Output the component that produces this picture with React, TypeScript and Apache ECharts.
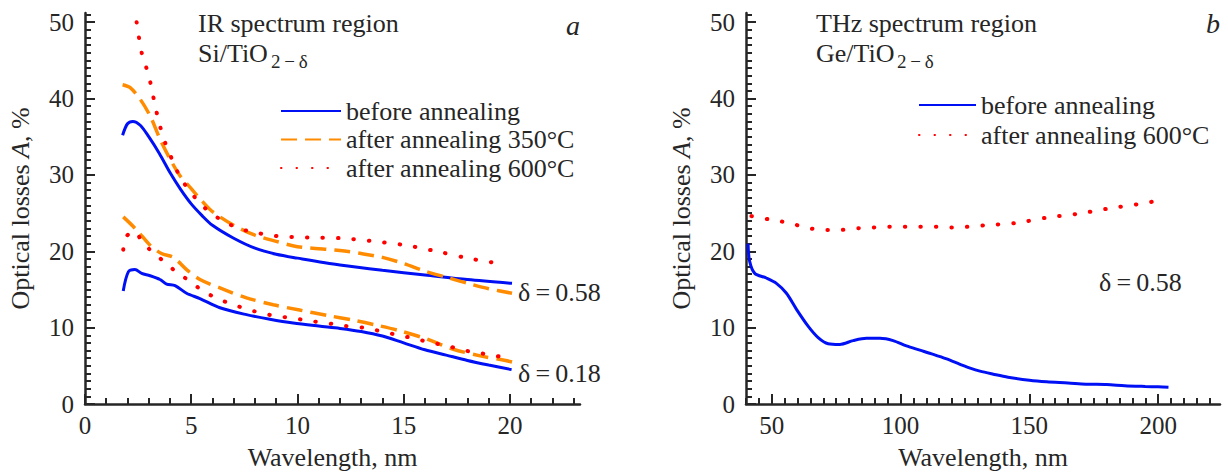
import React, { useEffect, useRef } from "react";
import * as echarts from "echarts";

// ---------- IR region (Si/TiO2-δ) ----------
const irBefore058Wl = [1.77, 2.0, 2.25, 2.6, 3.0, 3.5, 4.0, 4.5, 5, 5.5, 6, 7, 8, 9, 10, 12, 14, 16, 18, 20.1];
const irBefore058 = [35.2, 36.7, 37.0, 36.5, 35.0, 32.8, 30.3, 28.1, 26.2, 24.7, 23.4, 21.7, 20.4, 19.6, 19.1, 18.2, 17.5, 16.9, 16.3, 15.8];

const irAfter350_058Wl = [1.77, 2.14, 2.6, 3.07, 3.53, 4.0, 4.47, 5, 5.5, 6, 7, 8, 9, 10, 12, 13, 14, 15, 16, 17, 18, 19, 20.1];
const irAfter350_058 = [41.8, 41.4, 39.9, 37.7, 34.7, 32.1, 29.9, 28.2, 26.6, 25.2, 23.4, 22.1, 21.3, 20.6, 20.1, 19.7, 19.2, 18.4, 17.4, 16.6, 15.8, 15.1, 14.5];

const irAfter600_058Wl = [2.43, 2.66, 2.87, 3.06, 3.21, 3.37, 3.53, 3.8, 4.15, 4.5, 5.1, 5.67, 6.3, 6.9, 7.6, 9.0, 10.5, 12.1, 13.6, 15.06, 16.55, 18.0, 19.5];
const irAfter600_058 = [50.0, 46.1, 44.2, 42.3, 40.3, 38.2, 36.4, 34.0, 31.7, 29.6, 27.3, 25.6, 24.3, 23.4, 22.7, 22.0, 21.8, 21.7, 21.3, 20.8, 20.0, 19.1, 18.4];

const irBefore018Wl = [1.8, 2.04, 2.35, 2.67, 3.06, 3.53, 3.84, 4.24, 4.78, 5.41, 6.35, 7.6, 8.7, 9.8, 11, 12, 13, 14, 15, 16, 17, 18, 19, 20.08];
const irBefore018 = [14.8, 17.3, 17.6, 17.1, 16.8, 16.3, 15.7, 15.5, 14.5, 13.8, 12.6, 11.7, 11.1, 10.6, 10.2, 9.9, 9.5, 8.9, 8.0, 7.1, 6.4, 5.7, 5.1, 4.5];

const irAfter350_018Wl = [1.8, 2.43, 3.06, 3.6, 4.16, 4.78, 5.41, 6.35, 7.6, 8.86, 10.1, 11.4, 12.6, 13.6, 14.8, 16.1, 17.3, 18.6, 19.8, 20.1];
const irAfter350_018 = [24.5, 22.8, 20.8, 19.7, 19.2, 17.6, 16.3, 15.2, 13.9, 13.0, 12.3, 11.6, 11.0, 10.4, 9.6, 8.5, 7.2, 6.3, 5.7, 5.5];

const irAfter600_018Wl = [1.8, 1.93, 2.35, 2.67, 3.06, 3.61, 4.16, 4.71, 5.25, 5.88, 6.5, 7.2, 7.9, 8.63, 9.33, 10.1, 10.8, 11.6, 12.3, 13.1, 13.8, 14.6, 15.3, 16.05, 16.8, 17.5, 18.3, 19.0, 19.7];
const irAfter600_018 = [20.2, 21.9, 22.6, 21.3, 20.2, 18.9, 17.6, 16.5, 15.4, 14.3, 13.5, 12.8, 12.2, 11.7, 11.4, 11.1, 10.8, 10.5, 10.2, 10.0, 9.6, 9.1, 8.7, 8.2, 7.75, 7.3, 6.75, 6.5, 6.1];

// ---------- THz region (Ge/TiO2-δ) ----------
const thzBeforeWl = [40.8, 41.4, 43.4, 47.9, 51.8, 55.7, 59.6, 64.1, 68.0, 71.9, 76.4, 81.6, 86.8, 92.0, 97.1, 102.3, 107.5, 112.7, 117.9, 123.1, 127, 130.8, 136, 141.7, 150, 156.7, 165, 172, 180, 187, 195, 200, 204];
const thzBefore = [21.0, 18.7, 17.1, 16.5, 15.8, 14.5, 12.4, 10.2, 8.7, 7.9, 7.8, 8.3, 8.6, 8.6, 8.3, 7.6, 7.05, 6.5, 5.9, 5.2, 4.7, 4.3, 3.9, 3.5, 3.1, 2.9, 2.75, 2.6, 2.55, 2.4, 2.3, 2.25, 2.2];

const thzAfter600Wl = [42.1, 48.6, 53.8, 58.9, 64.8, 71.0, 76.7, 82.9, 89.0, 95.2, 101.3, 107.5, 113.7, 119.8, 125.9, 132.7, 144.7, 156.7, 168.7, 180.8, 192.8, 199.6];
const thzAfter600 = [24.6, 24.2, 23.9, 23.5, 23.0, 22.8, 22.8, 23.0, 23.1, 23.2, 23.2, 23.2, 23.2, 23.1, 23.2, 23.4, 23.7, 24.4, 24.9, 25.6, 26.2, 26.6];

// ---------- tick labels ----------
const irXTicks = [0, 5, 10, 15, 20];
const thzXTicks = [50, 100, 150, 200];
const yTicks = [0, 10, 20, 30, 40, 50];

const LEGEND_BEFORE = "before annealing";
const LEGEND_350 = "after annealing 350°C";
const LEGEND_600 = "after annealing 600°C";

const FONT = "'Liberation Serif', 'Times New Roman', 'DejaVu Serif', serif";
const TXT = "#262626";
const BLUE = "#0010f5";
const ORANGE = "#ff8c00";
const RED = "#ff0000";

const pairs = (xs: number[], ys: number[]) => xs.map((x, i) => [x, ys[i]]);
const steps = (a: number, b: number, s: number) => {
  const out: number[] = [];
  for (let v = a; v <= b + 1e-9; v += s) out.push(Math.round(v * 1000) / 1000);
  return out;
};

const tickLine = { color: TXT, width: 2 };

function majorAxis(opts: any) {
  const { grid, min, max, ticks, name, isY, gap } = opts;
  return {
    type: "value",
    gridIndex: grid,
    position: isY ? "left" : "bottom",
    min,
    max,
    name,
    nameLocation: "middle",
    nameGap: gap,
    nameTextStyle: {
      fontFamily: FONT,
      fontSize: 26,
      color: TXT,
      rich: { i: { fontFamily: FONT, fontSize: 26, color: TXT, fontStyle: "italic" } },
    },
    axisLine: { show: true, onZero: false, lineStyle: { color: TXT, width: 2.5 } },
    axisTick: { show: true, inside: true, length: 10, customValues: ticks, lineStyle: tickLine },
    axisLabel: {
      show: true,
      customValues: ticks,
      margin: isY ? 11 : 9,
      fontFamily: FONT,
      fontSize: 25,
      color: TXT,
    },
    splitLine: { show: false },
  };
}

function minorAxis(opts: any) {
  const { grid, min, max, ticks, isY } = opts;
  return {
    type: "value",
    gridIndex: grid,
    position: isY ? "left" : "bottom",
    min,
    max,
    axisLine: { show: false, onZero: false },
    axisTick: { show: true, inside: true, length: 6, customValues: ticks, lineStyle: tickLine },
    axisLabel: { show: false },
    splitLine: { show: false },
  };
}

const solid = { color: BLUE, width: 3, type: "solid" };
const dashed = { color: ORANGE, width: 3.5, type: [16, 8] };
const dotted = { color: RED, width: 4, type: [0.5, 15], cap: "round" };

function line(name: string, xi: number, data: number[][], style: any) {
  return {
    type: "line",
    name,
    xAxisIndex: xi,
    yAxisIndex: xi,
    data,
    symbol: "none",
    showSymbol: false,
    smooth: 0.3,
    lineStyle: style,
    itemStyle: { color: style.color },
    emphasis: { disabled: true },
  };
}

const textEl = (x: number, y: number, text: string, extra: any = {}) => ({
  type: "text",
  x,
  y,
  silent: true,
  style: {
    text,
    fontFamily: FONT,
    fontSize: 26,
    fill: TXT,
    align: "left",
    verticalAlign: "middle",
    ...extra,
  },
});

export default function App() {
  const ref = useRef<HTMLDivElement>(null);

  useEffect(() => {
    if (!ref.current) return;
    const chart = echarts.init(ref.current, undefined, { renderer: "svg" });

    const legendText = { fontFamily: FONT, fontSize: 26, color: TXT, lineHeight: 28 };

    chart.setOption({
      animation: false,
      backgroundColor: "#ffffff",
      grid: [
        { left: 85, top: 13, width: 495, height: 394 },
        { left: 746, top: 13, width: 474, height: 394 },
      ],
      xAxis: [
        majorAxis({ grid: 0, min: 0, max: 23.3, ticks: irXTicks, name: "Wavelength, nm", gap: 40 }),
        majorAxis({ grid: 1, min: 40, max: 224, ticks: thzXTicks, name: "Wavelength, nm", gap: 40 }),
        minorAxis({ grid: 0, min: 0, max: 23.3, ticks: steps(0, 23, 1) }),
        minorAxis({ grid: 1, min: 40, max: 224, ticks: steps(40, 220, 5) }),
      ],
      yAxis: [
        majorAxis({ grid: 0, min: 0, max: 51.2, ticks: yTicks, name: "Optical losses {i|A}, %", isY: true, gap: 52 }),
        majorAxis({ grid: 1, min: 0, max: 51.2, ticks: yTicks, name: "Optical losses {i|A}, %", isY: true, gap: 52 }),
        minorAxis({ grid: 0, min: 0, max: 51.2, ticks: steps(0, 51, 1), isY: true }),
        minorAxis({ grid: 1, min: 0, max: 51.2, ticks: steps(0, 51, 1), isY: true }),
      ],
      legend: [
        {
          orient: "vertical",
          left: 280,
          top: 97,
          padding: 0,
          itemWidth: 60,
          itemHeight: 14,
          itemGap: 0.5,
          selectedMode: false,
          itemStyle: { opacity: 0 },
          data: [LEGEND_BEFORE, LEGEND_350, LEGEND_600],
          textStyle: legendText,
        },
        {
          orient: "vertical",
          left: 918,
          top: 91,
          padding: 0,
          itemWidth: 57,
          itemHeight: 14,
          itemGap: 2,
          selectedMode: false,
          itemStyle: { opacity: 0 },
          data: [LEGEND_BEFORE, LEGEND_600],
          textStyle: legendText,
        },
      ],
      series: [
        line(LEGEND_BEFORE, 0, pairs(irBefore058Wl, irBefore058), solid),
        line(LEGEND_350, 0, pairs(irAfter350_058Wl, irAfter350_058), dashed),
        line(LEGEND_600, 0, pairs(irAfter600_058Wl, irAfter600_058), dotted),
        line(LEGEND_BEFORE, 0, pairs(irBefore018Wl, irBefore018), solid),
        line(LEGEND_350, 0, pairs(irAfter350_018Wl, irAfter350_018), dashed),
        line(LEGEND_600, 0, pairs(irAfter600_018Wl, irAfter600_018), dotted),
        line(LEGEND_BEFORE, 1, pairs(thzBeforeWl, thzBefore), solid),
        line(LEGEND_600, 1, pairs(thzAfter600Wl, thzAfter600), dotted),
      ],
      graphic: [
        textEl(198, 23, "IR spectrum region"),
        textEl(198, 53, "Si/TiO"),
        textEl(271, 61, "2\u2009\u2212\u2009δ", { fontSize: 19 }),
        textEl(566, 25, "a", { fontStyle: "italic", fontSize: 28 }),
        textEl(518, 292, "δ\u2009=\u20090.58"),
        textEl(518, 373, "δ\u2009=\u20090.18"),
        textEl(816, 23, "THz spectrum region"),
        textEl(816, 53, "Ge/TiO"),
        textEl(897, 61, "2\u2009\u2212\u2009δ", { fontSize: 19 }),
        textEl(1206, 23, "b", { fontStyle: "italic", fontSize: 28 }),
        textEl(1099, 282, "δ\u2009=\u20090.58"),
      ],
    });

    return () => chart.dispose();
  }, []);

  return (
    <div
      ref={ref}
      style={{ position: "fixed", left: 0, top: 0, width: 1228, height: 475, background: "#fff" }}
    />
  );
}
